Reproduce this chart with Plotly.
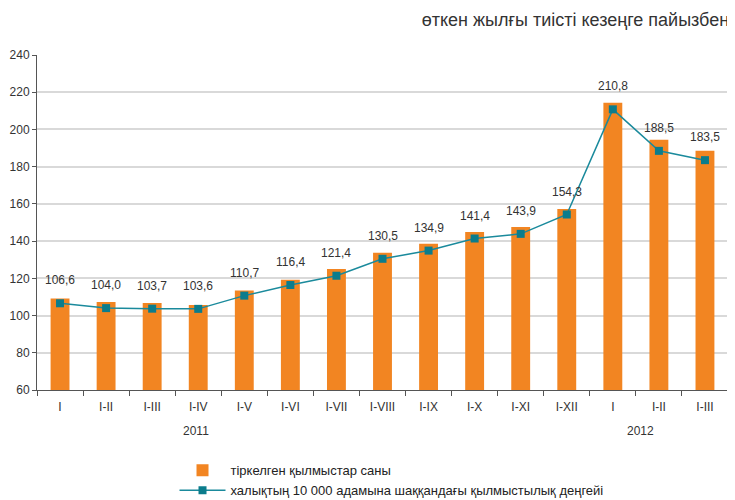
import plotly.graph_objects as go

months = ['I', 'I-II', 'I-III', 'I-IV', 'I-V', 'I-VI', 'I-VII', 'I-VIII', 'I-IX',
          'I-X', 'I-XI', 'I-XII', 'I', 'I-II', 'I-III']
registered = [109.1, 107.3, 106.7, 105.7, 113.4, 119.3, 125.0, 133.8, 138.6,
              144.9, 147.6, 157.3, 214.4, 194.5, 188.6]
crime_rate = [106.6, 104.0, 103.7, 103.6, 110.7, 116.4, 121.4, 130.5, 134.9,
              141.4, 143.9, 154.3, 210.8, 188.5, 183.5]
years = ['2011', '2012']
year_pos = [2.95, 12.6]

x = list(range(len(months)))
fig = go.Figure()

fig.add_trace(go.Bar(
    x=x, y=registered, name='тіркелген қылмыстар саны',
    marker=dict(color='#F28522', line=dict(width=0)),
    width=0.41
))
fig.add_trace(go.Scatter(
    x=x, y=crime_rate, mode='lines+markers',
    name='халықтың 10 000 адамына шаққандағы қылмыстылық деңгейі',
    line=dict(color='#1a8a9c', width=1.5),
    marker=dict(symbol='square', size=8, color='#0b7c8c')
))

# value labels above the line points
for i, v in enumerate(crime_rate):
    fig.add_annotation(x=i, y=v, text=f'{v:.1f}'.replace('.', ','),
                       showarrow=False, yshift=23,
                       font=dict(size=12, color='#333333'))

for yr, pos in zip(years, year_pos):
    fig.add_annotation(x=pos, y=0, yref='paper', text=yr, showarrow=False,
                       yanchor='top', yshift=-32,
                       font=dict(size=12, color='#333333'))

# page body has an 8px margin, so the figure is sized to fit the window
fig.update_layout(
    width=727, height=492,
    margin=dict(l=29, r=7, t=47, b=110, autoexpand=False),
    plot_bgcolor='white', paper_bgcolor='white',
    font=dict(family='Liberation Sans, Arial, sans-serif', color='#333333'),
    title=dict(text='өткен жылғы тиісті кезеңге пайызбен',
               xref='container', x=0.992, xanchor='right',
               yref='container', y=0.976, yanchor='middle',
               font=dict(size=18, color='#333333')),
    showlegend=True,
    legend=dict(x=0.199, y=-0.195, xanchor='left', yanchor='top',
                font=dict(size=13, color='#222222'), itemwidth=46),
    xaxis=dict(range=[-0.5, 14.5], tickvals=x, ticktext=months,
               ticks='outside', ticklen=6, tickcolor='rgba(0,0,0,0)',
               showline=True, linecolor='#555555', linewidth=1,
               showgrid=False, zeroline=False,
               tickfont=dict(size=12, family='Liberation Sans Narrow, Liberation Sans, Arial'),
               minor=dict(tickvals=[i - 0.5 for i in range(len(months) + 1)],
                          ticks='outside', ticklen=5, tickcolor='#555555',
                          showgrid=False)),
    yaxis=dict(range=[60, 240], dtick=20, showline=True, linecolor='#555555',
               linewidth=1, ticks='outside', ticklen=4, tickcolor='#555555',
               gridcolor='#d9d9d9', gridwidth=1.5, zeroline=False,
               tickfont=dict(size=12))
)

fig.write_html("out.html")
